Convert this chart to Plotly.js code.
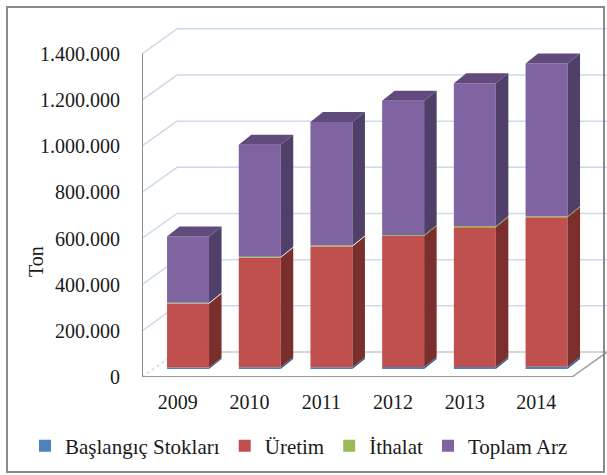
<!DOCTYPE html>
<html><head><meta charset="utf-8">
<script src="https://cdn.plot.ly/plotly-3.0.1.min.js"></script>
<style>html,body{margin:0;padding:0;background:#fff}#chart{width:607px;height:475px}</style>
</head><body><div id="chart"></div>
<script>
// ---- data ----
const years = ['2009', '2010', '2011', '2012', '2013', '2014'];
const baslangic = [7000, 8000, 8000, 9000, 9000, 10000];
const uretim = [276000, 474000, 523000, 567000, 605000, 647000];
const ithalat = [4000, 4000, 4000, 5000, 5000, 5000];
const toplamArz = [287000, 486000, 535000, 581000, 619000, 662000];
const yTicks = [0, 200000, 400000, 600000, 800000, 1000000, 1200000, 1400000];
const yTickText = ['0', '200.000', '400.000', '600.000', '800.000', '1.000.000', '1.200.000', '1.400.000'];
const seriesNames = ['Başlangıç Stokları', 'Üretim', 'İthalat', 'Toplam Arz'];

// ---- geometry ----
const W = 607, H = 475, mL = 142, mR = 0, mT = 28, mB = 98;
const plotW = W - mL - mR, plotH = H - mT - mB;
const pxPerCat = 71.7;
const xMin = -0.5, xMax = xMin + plotW / pxPerCat;
const yMax = 1512000;
const vPerPx = yMax / plotH;
const cx = px => px / pxPerCat;
const cv = px => px * vPerPx;
const wallDX = cx(35), wallDY = cv(25);
const barOffX = cx(10.2), barOffY = cv(8);
const depthX = cx(12.5), depthY = cv(10);
const barW = cx(42);
const floorRight = xMin + cx(430);

const styles = [
  {front: '#4F81BD', side: '#3A6192', top: '#4672A8'},
  {front: '#C0504D', side: '#7B2F2D', top: '#A0403D'},
  {front: '#9BBB59', side: '#718B3C', top: '#86A34A'},
  {front: '#8064A2', side: '#503F69', top: '#604B7C'}
];
const seriesVals = [baslangic, uretim, ithalat, toplamArz];

const traces = [];
const sideTraces = [];
const cum = years.map(() => 0);
seriesVals.forEach((vals, k) => {
  const base = cum.map(c => c + barOffY);
  const xs = years.map((_, i) => i + barOffX);
  traces.push({
    type: 'bar', name: seriesNames[k], x: xs, y: vals, base: base, width: barW,
    marker: {color: styles[k].front, line: {width: 0}}, hoverinfo: 'skip'
  });
  const sx = [], sy = [];
  years.forEach((_, i) => {
    const xr = xs[i] + barW / 2;
    const y0 = base[i], y1 = base[i] + vals[i];
    sx.push(xr, xr + depthX, xr + depthX, xr, xr, null);
    sy.push(y0, y0 + depthY, y1 + depthY, y1, y0, null);
  });
  sideTraces.push({
    type: 'scatter', mode: 'lines', x: sx, y: sy, fill: 'toself', fillcolor: styles[k].side,
    line: {width: 0, color: styles[k].side}, showlegend: false, hoverinfo: 'skip'
  });
  if (k === seriesVals.length - 1) {
    const tx = [], ty = [];
    years.forEach((_, i) => {
      const xl = xs[i] - barW / 2, xr = xs[i] + barW / 2;
      const yt = base[i] + vals[i];
      tx.push(xl, xr, xr + depthX, xl + depthX, xl, null);
      ty.push(yt, yt, yt + depthY, yt + depthY, yt, null);
    });
    sideTraces.push({
      type: 'scatter', mode: 'lines', x: tx, y: ty, fill: 'toself', fillcolor: styles[k].top,
      line: {width: 0, color: styles[k].top}, showlegend: false, hoverinfo: 'skip'
    });
  }
  vals.forEach((v, i) => cum[i] += v);
});

// ---- walls / floor ----
const gridColor = '#CCD9EC';
const shapes = [];
yTicks.forEach(v => {
  shapes.push({type: 'line', layer: 'below', x0: xMin + wallDX, x1: xMax, y0: v + wallDY, y1: v + wallDY,
    line: {color: v === 0 ? '#C8C8C8' : gridColor, width: 1.5}});
  shapes.push({type: 'line', layer: 'below', x0: xMin, x1: xMin + wallDX, y0: v, y1: v + wallDY,
    line: {color: gridColor, width: 1.5, dash: v === 0 ? 'dot' : 'solid'}});
});
shapes.push({type: 'line', layer: 'below', x0: xMin, x1: xMin, y0: 0, y1: yTicks[yTicks.length - 1],
  line: {color: '#8E8E8E', width: 2}});
shapes.push({type: 'line', layer: 'below', x0: xMin, x1: floorRight, y0: 0, y1: 0,
  line: {color: '#9A9A9A', width: 2}});
shapes.push({type: 'line', layer: 'below', x0: floorRight, x1: floorRight + wallDX, y0: 0, y1: wallDY,
  line: {color: '#9A9A9A', width: 1.5}});
shapes.push({type: 'rect', xref: 'paper', yref: 'paper',
  x0: (7 - mL) / plotW, x1: (604 - mL) / plotW, y0: (plotH + mT - 472) / plotH, y1: (plotH + mT - 7) / plotH,
  line: {color: '#8A8A8A', width: 2}, fillcolor: 'rgba(0,0,0,0)'});

const family = 'Liberation Serif, Times New Roman, serif';
const font = {family: family, size: 20, color: '#1a1a1a'};
const legendFont = {family: family, size: 21, color: '#1a1a1a'};

const layout = {
  width: W, height: H,
  margin: {l: mL, r: mR, t: mT, b: mB, pad: 0},
  paper_bgcolor: '#ffffff', plot_bgcolor: 'rgba(0,0,0,0)',
  barmode: 'overlay',
  font: font,
  showlegend: true,
  xaxis: {
    range: [xMin, xMax], tickmode: 'array', tickvals: years.map((_, i) => i), ticktext: years,
    showgrid: false, zeroline: false, showline: false, ticks: 'outside', ticklen: 7,
    tickcolor: 'rgba(0,0,0,0)', tickfont: font, fixedrange: true
  },
  yaxis: {
    range: [0, yMax], tickmode: 'array', tickvals: yTicks, ticktext: yTickText,
    showgrid: false, zeroline: false, showline: false, ticks: 'outside', ticklen: 17,
    tickcolor: 'rgba(0,0,0,0)', tickfont: font, fixedrange: true
  },
  legend: {
    orientation: 'h', xref: 'paper', yref: 'paper', x: (25 - mL) / plotW, y: (plotH + mT - 446) / plotH,
    xanchor: 'left', yanchor: 'middle', font: legendFont, itemwidth: 30, bgcolor: 'rgba(0,0,0,0)',
    traceorder: 'normal'
  },
  annotations: [{
    text: 'Ton', xref: 'paper', yref: 'paper', x: (36 - mL) / plotW, y: (plotH + mT - 262) / plotH,
    textangle: -90, showarrow: false, font: font, xanchor: 'center', yanchor: 'middle'
  }],
  shapes: shapes
};

Plotly.newPlot('chart', traces.concat(sideTraces), layout, {displayModeBar: false, staticPlot: true});
</script>
</body></html>
